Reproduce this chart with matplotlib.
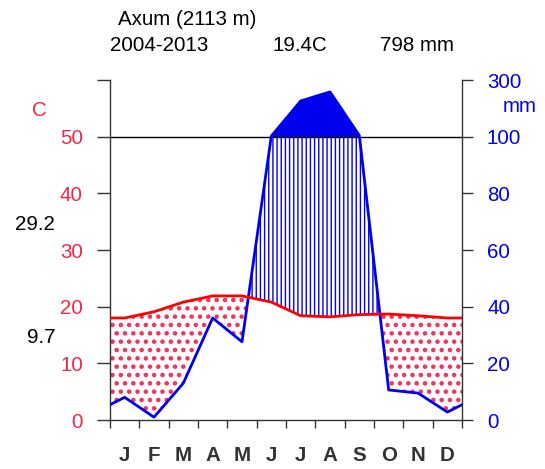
import numpy as np
import matplotlib
matplotlib.use("Agg")
import matplotlib.pyplot as plt

plt.rcParams['font.family'] = ['Liberation Sans', 'DejaVu Sans']

# Datos mensuales (Axum, 2004-2013)
months = ['J', 'F', 'M', 'A', 'M', 'J', 'J', 'A', 'S', 'O', 'N', 'D']
temp = [18.0, 19.1, 20.8, 21.9, 21.9, 20.8, 18.4, 18.2, 18.6, 18.7, 18.4, 18.0]
prec = [8.0, 1.0, 13.0, 36.0, 27.6, 102.0, 226.0, 258.0, 104.0, 10.6, 9.5, 2.8]
left_ticks = [0, 10, 20, 30, 40, 50]
right_labels = ['0', '20', '40', '60', '80', '100', '300']

RED = '#f02848'
BLUE = '#0000ee'
FS = 14.8


def prec_scale(p):
    # escala Walter-Lieth: 2 mm/C hasta 100 mm, luego 20 mm/C
    p = np.asarray(p, dtype=float)
    return np.where(p <= 100, p / 2.0, 50 + (p - 100) / 20.0)


# puntos en el centro de cada mes, con extremos = media dic/ene
xs = np.concatenate([[0], np.arange(12) + 0.5, [12]])
t_ext = np.concatenate([[(temp[0] + temp[-1]) / 2], temp, [(temp[0] + temp[-1]) / 2]])
p_ext = np.concatenate([[(prec[0] + prec[-1]) / 2], prec, [(prec[0] + prec[-1]) / 2]])
ps_ext = prec_scale(p_ext)

xf = np.linspace(0, 12, 2401)
tf = np.interp(xf, xs, t_ext)
pf = np.interp(xf, xs, ps_ext)

fig = plt.figure(figsize=(5.45, 4.69), dpi=100)
ax = fig.add_axes([110 / 545, 1 - 420 / 469, 352 / 545, 340 / 469])

# periodo seco (puntos rojos)
with plt.rc_context({'hatch.linewidth': 2.0}):
    dry = ax.fill_between(xf, pf, tf, where=tf >= pf, interpolate=True,
                          facecolor='none', edgecolor='#f0305a', hatch='..', linewidth=0)
# periodo humedo (rayas verticales azules)
with plt.rc_context({'hatch.linewidth': 1.0}):
    wet = ax.fill_between(xf, tf, np.minimum(pf, 50), where=pf >= tf, interpolate=True,
                          facecolor='none', edgecolor=BLUE, hatch='||||', linewidth=0)
if hasattr(dry, 'set_hatch_linewidth'):
    dry.set_hatch_linewidth(2.0)
    wet.set_hatch_linewidth(1.0)
# mas de 100 mm (relleno azul)
ax.fill_between(xf, 50, pf, where=pf >= 50, interpolate=True,
                facecolor=BLUE, edgecolor=BLUE, linewidth=0.5)

ax.axhline(50, color='black', lw=1.0)
ax.plot(xs, ps_ext, color=BLUE, lw=2.0, zorder=5)
ax.plot(xs, t_ext, color='red', lw=2.0, zorder=6)

ax.set_xlim(0, 12)
ax.set_ylim(0, 60)
for s in ['left', 'right', 'bottom']:
    ax.spines[s].set_color('#333333')
    ax.spines[s].set_linewidth(1.0)
ax.spines['top'].set_visible(False)
ax.spines['right'].set_visible(False)

ax.set_xticks(np.arange(13))
ax.set_xticklabels([])
ax.tick_params(axis='x', which='major', length=6, width=1.0, color='#333333')
ax.set_xticks(np.arange(12) + 0.5, minor=True)
ax.set_xticklabels(months, minor=True, fontsize=FS, color='#333333', fontweight='bold')
ax.tick_params(axis='x', which='minor', length=0, pad=19)

ax.set_yticks(left_ticks + [60])
ax.set_yticklabels([str(v) for v in left_ticks] + [''], fontsize=FS, color=RED)
ax.tick_params(axis='y', length=9.5, width=1.0, color='#333333', pad=10)

ax2 = ax.twinx()
ax2.set_position(ax.get_position())
ax2.set_ylim(0, 60)
ax2.set_yticks([0, 10, 20, 30, 40, 50, 60])
ax2.set_yticklabels(right_labels, fontsize=FS, color=BLUE)
ax2.tick_params(axis='y', length=8, width=1.0, color='#333333', pad=10)
for s in ['left', 'top', 'bottom']:
    ax2.spines[s].set_visible(False)
ax2.spines['right'].set_color('#333333')
ax2.spines['right'].set_linewidth(1.0)

# textos
fig.text(118 / 545, 1 - 25 / 469, 'Axum (2113 m)', fontsize=FS, va='baseline', ha='left')
fig.text(110 / 545, 1 - 51 / 469, '2004-2013', fontsize=FS, va='baseline', ha='left')
fig.text(272 / 545, 1 - 51 / 469, '19.4C', fontsize=FS, va='baseline', ha='left')
fig.text(380 / 545, 1 - 51 / 469, '798 mm', fontsize=FS, va='baseline', ha='left')
fig.text(39 / 545, 1 - 111 / 469, 'C', fontsize=FS, color=RED, ha='center', va='center')
fig.text(520 / 545, 1 - 107 / 469, 'mm', fontsize=FS, color=BLUE, ha='center', va='center')
fig.text(55 / 545, 1 - 224 / 469, '29.2', fontsize=FS, ha='right', va='center')
fig.text(55 / 545, 1 - 337 / 469, '9.7', fontsize=FS, ha='right', va='center')

fig.savefig('out.png', dpi=100)
